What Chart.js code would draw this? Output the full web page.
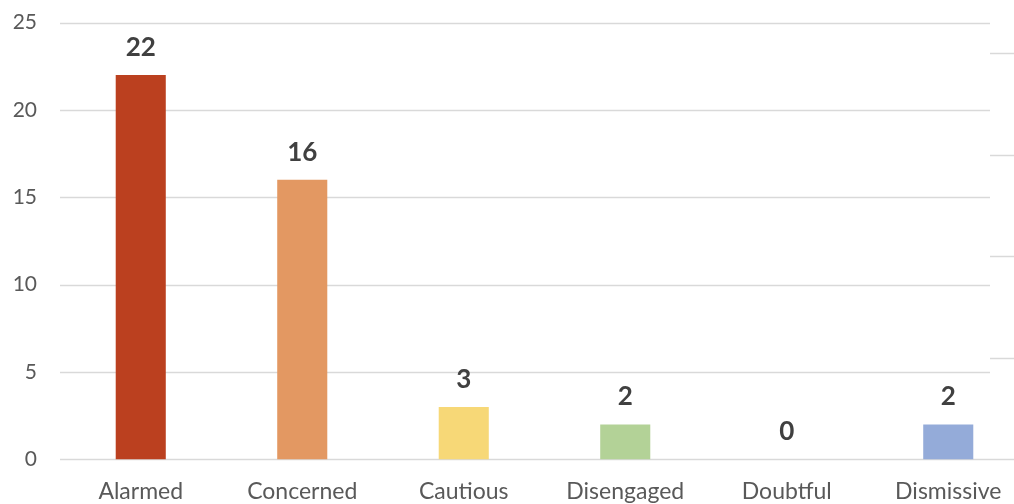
<!DOCTYPE html>
<html lang="en">
<head>
  <meta charset="UTF-8">
  <title>Six Americas</title>
  <script src="https://cdn.jsdelivr.net/npm/chart.js"></script>
  <style>
    html, body {
      margin: 0;
      padding: 0;
      background: #fff;
      overflow: hidden;
    }
    .chart-box {
      width: 1029px;
      height: 517px;
      margin-top: -13px;
    }
  </style>
</head>
<body>
  <div class="chart-box">
    <canvas id="segmentChart"></canvas>
  </div>

  <script>
    const categories = ["Alarmed", "Concerned", "Cautious", "Disengaged", "Doubtful", "Dismissive"];
    const counts = [22, 16, 3, 2, 0, 2];
    const barColors = ["#BB401F", "#E39862", "#F7D877", "#B3D297", "#A5A5A5", "#94ABD9"];
    const yTicks = [0, 5, 10, 15, 20, 25];
    // stray short ticks on the right edge (secondary scale 0..4.3)
    const rightTicks = [1, 2, 3, 4];

    const fontFamily = "Lato, 'Open Sans', sans-serif";

    // grid lines stop short of the right edge, like the original
    const gridPlugin = {
      id: "gridPlugin",
      beforeDatasetsDraw(chart) {
        const { ctx, chartArea, scales } = chart;
        const gridEnd = 990;
        ctx.save();
        ctx.strokeStyle = "#D9D9D9";
        ctx.lineWidth = 1.5;
        yTicks.forEach(v => {
          const y = Math.round(scales.y.getPixelForValue(v)) + 0.5;
          ctx.beginPath();
          ctx.moveTo(chartArea.left, y);
          ctx.lineTo(v === 0 ? chartArea.right : gridEnd, y);
          ctx.stroke();
        });
        rightTicks.forEach(v => {
          const y = Math.round(scales.y2.getPixelForValue(v)) + 0.5;
          ctx.beginPath();
          ctx.moveTo(gridEnd, y);
          ctx.lineTo(chartArea.right, y);
          ctx.stroke();
        });
        ctx.restore();
      }
    };

    // value labels above each bar
    const valueLabels = {
      id: "valueLabels",
      afterDatasetsDraw(chart) {
        const { ctx } = chart;
        const meta = chart.getDatasetMeta(0);
        ctx.save();
        ctx.font = "bold 26px " + fontFamily;
        ctx.fillStyle = "#404040";
        ctx.textAlign = "center";
        ctx.textBaseline = "alphabetic";
        meta.data.forEach((bar, i) => {
          ctx.fillText(String(counts[i]), bar.x, bar.y - 19);
        });
        ctx.restore();
      }
    };

    new Chart(document.getElementById("segmentChart"), {
      type: "bar",
      data: {
        labels: categories,
        datasets: [{
          label: "Respondents",
          data: counts,
          backgroundColor: barColors,
          barPercentage: 0.31,
          categoryPercentage: 1
        }]
      },
      options: {
        responsive: true,
        maintainAspectRatio: false,
        animation: false,
        layout: { padding: { left: 12, top: 0, right: 0, bottom: -19 } },
        plugins: {
          legend: { display: false },
          tooltip: { enabled: false }
        },
        scales: {
          x: {
            grid: { display: false, drawTicks: false },
            border: { display: false },
            ticks: {
              color: "#595959",
              font: { family: fontFamily, size: 23 },
              padding: 18
            }
          },
          y: {
            min: 0,
            max: 25,
            grid: { display: false, drawTicks: false },
            border: { display: false },
            afterBuildTicks(axis) {
              axis.ticks = yTicks.map(v => ({ value: v }));
            },
            afterFit(axis) {
              axis.width = 48;
            },
            ticks: {
              color: "#595959",
              font: { family: fontFamily, size: 21 },
              padding: 23
            }
          },
          y2: {
            display: false,
            min: 0,
            max: 4.3
          }
        }
      },
      plugins: [gridPlugin, valueLabels]
    });
  </script>
</body>
</html>
